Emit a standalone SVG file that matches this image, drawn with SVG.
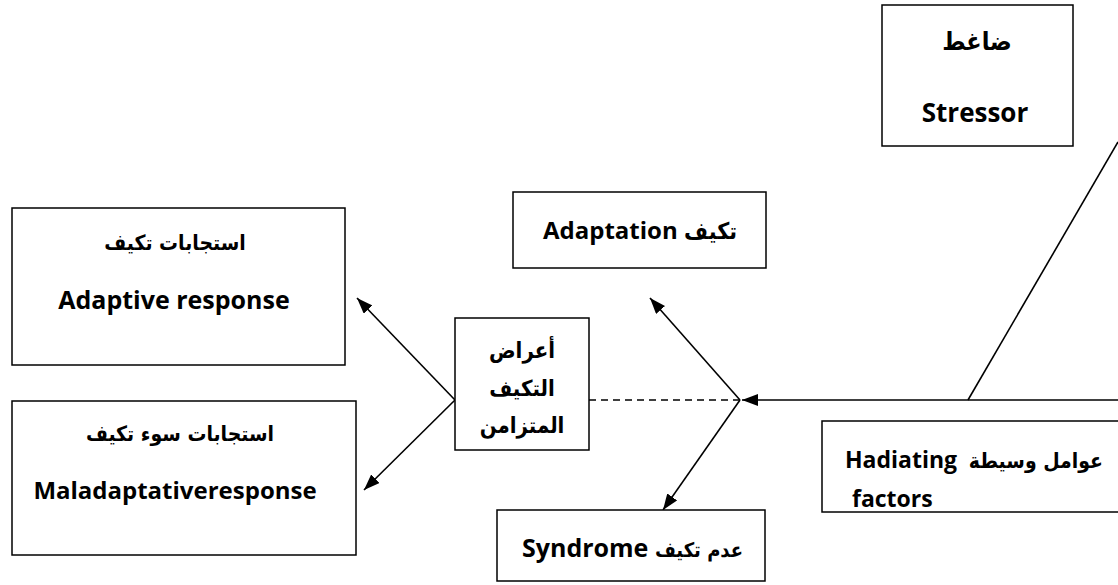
<svg xmlns="http://www.w3.org/2000/svg" width="1118" height="585" viewBox="0 0 1118 585">
<style>
.box{fill:#fff;stroke:#000;stroke-width:1.5}
.t{font-family:"Open Sans","DejaVu Sans",sans-serif;font-weight:bold;font-size:24px;fill:#000}
.ar{font-family:"DejaVu Sans Condensed","DejaVu Sans",sans-serif;font-weight:bold;font-size:22px;fill:#000}
.c{text-anchor:middle}
.e{text-anchor:end}
.ln{stroke:#000;stroke-width:1.6;fill:none}
</style>
<defs>
<marker id="ah" viewBox="0 0 16 12" refX="16" refY="6" markerWidth="16" markerHeight="12" markerUnits="userSpaceOnUse" orient="auto">
<path d="M0,0 L16,6 L0,12 z" fill="#000"/>
</marker>
</defs>
<rect width="1118" height="585" fill="#fff"/>
<g id="connectors">
<line class="ln" x1="1118" y1="142" x2="968" y2="400"/>
<line class="ln" x1="1118" y1="400" x2="742" y2="400" marker-end="url(#ah)"/>
<line class="ln" x1="589" y1="400" x2="740" y2="400" stroke-dasharray="7,5"/>
<line class="ln" x1="740" y1="400" x2="650" y2="298" marker-end="url(#ah)"/>
<line class="ln" x1="740" y1="400" x2="663" y2="510" marker-end="url(#ah)"/>
<line class="ln" x1="455" y1="400" x2="357" y2="298" marker-end="url(#ah)"/>
<line class="ln" x1="455" y1="400" x2="364" y2="490" marker-end="url(#ah)"/>
</g>
<g id="stressor">
<rect class="box" x="882" y="5" width="191" height="141"/>
<text class="ar c" x="977" y="50" style="font-size:25px">ضاغط</text>
<text class="t c" x="975" y="122" style="font-size:26px">Stressor</text>
</g>
<g id="hadiating">
<rect class="box" x="822" y="421" width="310" height="91"/>
<text class="t" x="845" y="468" style="font-size:23px">Hadiating</text>
<text class="ar e" x="1103" y="468" style="font-size:21px">عوامل وسيطة</text>
<text class="t" x="852" y="507" style="font-size:23px">factors</text>
</g>
<g id="adaptation">
<rect class="box" x="513" y="192" width="253" height="76"/>
<text class="t" x="543" y="239">Adaptation</text>
<text class="ar e" x="737" y="239" style="font-size:23px">تكيف</text>
</g>
<g id="syndrome">
<rect class="box" x="497" y="510" width="268" height="71"/>
<text class="t" x="522" y="557" style="font-size:25px">Syndrome</text>
<text class="ar e" x="743" y="557" style="font-size:20px">عدم تكيف</text>
</g>
<g id="symptoms">
<rect class="box" x="455" y="318" width="134" height="132"/>
<text class="ar c" x="522" y="358">أعراض</text>
<text class="ar c" x="522" y="396">التكيف</text>
<text class="ar c" x="522" y="433">المتزامن</text>
</g>
<g id="adaptive">
<rect class="box" x="12" y="208" width="333" height="157"/>
<text class="ar c" x="175" y="250" style="font-size:21px">استجابات تكيف</text>
<text class="t c" x="174" y="309" style="font-size:25px">Adaptive response</text>
</g>
<g id="maladaptive">
<rect class="box" x="12" y="401" width="344" height="154"/>
<text class="ar c" x="180" y="441" style="font-size:21px">استجابات سوء تكيف</text>
<text class="t c" x="175" y="499">Maladaptativeresponse</text>
</g>
</svg>
